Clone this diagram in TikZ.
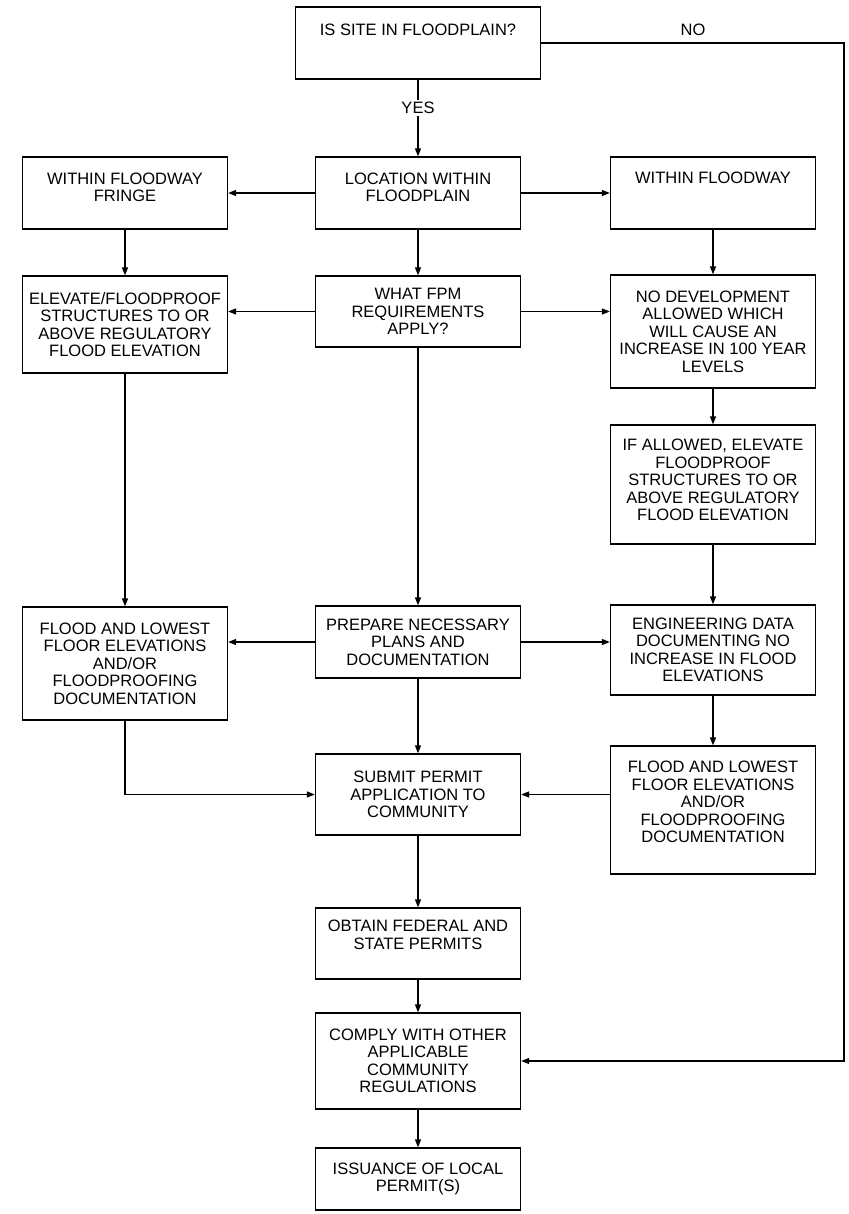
\documentclass[tikz,border=0pt]{standalone}
\usepackage{fontspec}
\setmainfont{Liberation Sans}
\usetikzlibrary{arrows.meta}

\tikzset{
    box/.style={draw, line width=1.3pt, minimum width=205pt, inner sep=2pt, align=center,
        font=\fontsize{16.5}{17.5}\selectfont},
    arr/.style={line width=1.3pt, -{Triangle[length=8pt,width=6pt]}},
    lbl/.style={font=\fontsize{16.5}{17.5}\selectfont, inner sep=2pt},
}

\begin{document}
\begin{tikzpicture}[x=1pt,y=-1pt]
        \useasboundingbox (0,0) rectangle (848,1214);

        % Define column positions
        \def\xl{125}
        \def\xm{418}
        \def\xr{713}

        % Question at the top
        \node[box, minimum width=245pt, minimum height=72pt, text depth=26pt] (site) at (\xm,43) {IS SITE IN FLOODPLAIN?};

        % First row
        \node[box, minimum height=72pt, text depth=12pt] (fringe) at (\xl,193) {WITHIN FLOODWAY\\FRINGE};
        \node[box, minimum height=72pt, text depth=12pt] (locn) at (\xm,193) {LOCATION WITHIN\\FLOODPLAIN};
        \node[box, minimum height=72pt, text depth=30pt] (fway) at (\xr,193) {WITHIN FLOODWAY};

        % Second row
        \node[box, minimum height=97pt] (elev) at (\xl,324.5) {ELEVATE/FLOODPROOF\\STRUCTURES TO OR\\ABOVE REGULATORY\\FLOOD ELEVATION};
        \node[box, minimum height=71pt] (fpm) at (\xm,311.5) {WHAT FPM\\REQUIREMENTS\\APPLY?};
        \node[box, minimum height=113pt] (nodev) at (\xr,331.5) {NO DEVELOPMENT\\ALLOWED WHICH\\WILL CAUSE AN\\INCREASE IN 100 YEAR\\LEVELS};
        \node[box, minimum height=119pt, text depth=9pt] (ifallow) at (\xr,484.5) {IF ALLOWED, ELEVATE\\FLOODPROOF\\STRUCTURES TO OR\\ABOVE REGULATORY\\FLOOD ELEVATION};

        % Third row
        \node[box, minimum height=113pt] (docl) at (\xl,663.5) {FLOOD AND LOWEST\\FLOOR ELEVATIONS\\AND/OR\\FLOODPROOFING\\DOCUMENTATION};
        \node[box, minimum height=72pt] (prep) at (\xm,642) {PREPARE NECESSARY\\PLANS AND\\DOCUMENTATION};
        \node[box, minimum height=90pt] (eng) at (\xr,650) {ENGINEERING DATA\\DOCUMENTING NO\\INCREASE IN FLOOD\\ELEVATIONS};

        % Lower part
        \node[box, minimum height=81pt] (submit) at (\xm,794.5) {SUBMIT PERMIT\\APPLICATION TO\\COMMUNITY};
        \node[box, minimum height=128pt, text depth=16pt] (docr) at (\xr,810) {FLOOD AND LOWEST\\FLOOR ELEVATIONS\\AND/OR\\FLOODPROOFING\\DOCUMENTATION};
        \node[box, minimum height=71pt, text depth=18pt] (obtain) at (\xm,943.5) {OBTAIN FEDERAL AND\\STATE PERMITS};
        \node[box, minimum height=96pt] (comply) at (\xm,1061) {COMPLY WITH OTHER\\APPLICABLE\\COMMUNITY\\REGULATIONS};
        \node[box, minimum height=62pt] (issue) at (\xm,1179) {ISSUANCE OF LOCAL\\PERMIT(S)};

        % YES branch
        \draw[arr] (site) -- node[lbl, fill=white, pos=0.37] (yes) {YES} (locn);

        % NO branch round the right side
        \coordinate (noturn) at (844,43);
        \node[lbl] (no) at (693,30) {NO};
        \draw[arr] (site.east) -- (noturn) |- (comply.east);

        % Draw connecting lines
        \foreach \a/\b in {locn/fpm, fpm/prep, prep/submit, submit/obtain, obtain/comply, comply/issue,
                           fringe/elev, elev/docl, fway/nodev, nodev/ifallow, ifallow/eng, eng/docr,
                           locn/fringe, locn/fway}
            \draw[arr] (\a) -- (\b);

        % Side arrows kept level with the middle boxes
        \draw[arr] (fpm.west) -- (fpm.west -| elev.east);
        \draw[arr] (fpm.east) -- (fpm.east -| nodev.west);
        \draw[arr] (prep.west) -- (prep.west -| docl.east);
        \draw[arr] (prep.east) -- (prep.east -| eng.west);
        \draw[arr] (docr.west |- submit.east) -- (submit.east);

        % Left column joins the middle
        \draw[arr] (docl) |- (submit);
    \end{tikzpicture}
\end{document}
